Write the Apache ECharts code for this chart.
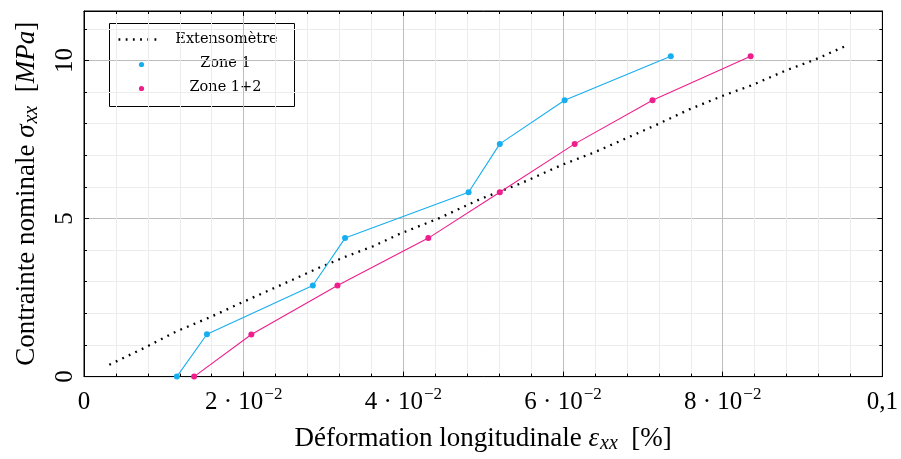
<!DOCTYPE html>
<html>
<head>
<meta charset="utf-8">
<script src="https://cdn.jsdelivr.net/npm/echarts@6/dist/echarts.min.js"></script>
<style>
html,body{margin:0;padding:0;background:#fff;}
#c{width:901px;height:459px;}
</style>
</head>
<body>
<div id="c"></div>
<script>
// Extensomètre (dotted black)
const extX = [0.00317, 0.0075, 0.01158, 0.0158, 0.01992, 0.0247, 0.0295, 0.03283, 0.0362, 0.0395, 0.0445, 0.0495, 0.0548, 0.0599, 0.0640, 0.0674, 0.0716, 0.0758, 0.0801, 0.0837, 0.0878, 0.0916, 0.0958];
const extY = [0.375, 0.90, 1.43, 1.88, 2.36, 2.90, 3.45, 3.80, 4.12, 4.51, 5.01, 5.60, 6.12, 6.70, 7.10, 7.48, 7.95, 8.45, 8.89, 9.22, 9.67, 10.03, 10.50];
// Zone 1 (blue)
const z1X = [0.01163, 0.0154, 0.02866, 0.0327, 0.04817, 0.05208, 0.0602, 0.0735];
const z1Y = [0, 1.34, 2.88, 4.38, 5.83, 7.36, 8.74, 10.13];
// Zone 1+2 (pink)
const z12X = [0.01379, 0.02096, 0.03175, 0.04313, 0.05208, 0.06146, 0.07121, 0.0835];
const z12Y = [0, 1.33, 2.88, 4.38, 5.83, 7.36, 8.74, 10.13];
// Tick labels
const xTickLabels = {0: '0', 0.02: '2 · 10|−2', 0.04: '4 · 10|−2', 0.06: '6 · 10|−2', 0.08: '8 · 10|−2', 0.1: '0,1'};
const legendNames = ['Extensomètre', 'Zone 1', 'Zone 1+2'];

const zip = (a, b) => a.map((v, i) => [v, b[i]]);
const BLUE = '#17aeef', PINK = '#ee1e8c';
const SERIF = '"Liberation Serif", "DejaVu Serif", serif';

const chart = echarts.init(document.getElementById('c'));
const gridL = 84, gridR = 17, gridT = 11, gridB = 78;

function xFmt(v) {
  const key = Math.round(v * 1000) / 1000;
  const s = xTickLabels[key];
  if (s === undefined) return '';
  if (s.indexOf('|') >= 0) {
    const p = s.split('|');
    return '{n|' + p[0] + '}{s|' + p[1] + '}';
  }
  return '{n|' + s + '}';
}

const titleRich = {
  a: {fontFamily: SERIF, fontSize: 27, color: '#000', lineHeight: 30},
  e: {fontFamily: SERIF, fontSize: 27, fontStyle: 'italic', color: '#000', lineHeight: 30},
  b: {fontFamily: SERIF, fontSize: 20, fontStyle: 'italic', color: '#000', lineHeight: 30, padding: [10, 0, 0, 1]}
};

const option = {
  backgroundColor: '#fff',
  animation: false,
  grid: {left: gridL, right: gridR, top: gridT, bottom: gridB, show: true, borderColor: '#000', borderWidth: 1},
  xAxis: [{
    type: 'value', min: 0, max: 0.1, interval: 0.02, position: 'bottom',
    axisLine: {show: true, onZero: false, lineStyle: {color: '#000', width: 1}},
    axisTick: {show: true, inside: true, length: 5, lineStyle: {color: '#000'}},
    minorTick: {show: true, splitNumber: 5, length: 3, lineStyle: {color: '#000'}},
    splitLine: {show: true, lineStyle: {color: '#bdbdbd', width: 1}},
    minorSplitLine: {show: true, lineStyle: {color: '#ececec', width: 1}},
    axisLabel: {
      margin: 13, formatter: xFmt,
      rich: {
        n: {fontFamily: SERIF, fontSize: 25, color: '#000', lineHeight: 26},
        s: {fontFamily: SERIF, fontSize: 17, color: '#000', lineHeight: 26, padding: [0, 0, 16, 1]}
      }
    },
    name: '{a|Déformation longitudinale }{e|ε}{b|xx}{a|  [%]}',
    nameLocation: 'middle', nameGap: 44,
    nameTextStyle: {rich: titleRich}
  }, {
    type: 'value', min: 0, max: 0.1, interval: 0.02, position: 'top',
    axisLine: {show: true, onZero: false, lineStyle: {color: '#000'}},
    axisTick: {show: true, inside: true, length: 5, lineStyle: {color: '#000'}},
    minorTick: {show: true, splitNumber: 5, length: 3, lineStyle: {color: '#000'}},
    axisLabel: {show: false}, splitLine: {show: false}
  }],
  yAxis: [{
    type: 'value', min: 0, max: 11.5625, interval: 5, position: 'left',
    axisLine: {show: true, onZero: false, lineStyle: {color: '#000', width: 1}},
    axisTick: {show: true, inside: true, length: 5, lineStyle: {color: '#000'}},
    minorTick: {show: true, splitNumber: 5, length: 3, lineStyle: {color: '#000'}},
    splitLine: {show: true, lineStyle: {color: '#bdbdbd', width: 1}},
    minorSplitLine: {show: true, lineStyle: {color: '#ececec', width: 1}},
    axisLabel: {
      rotate: 90, margin: 6, showMaxLabel: false,
      fontFamily: SERIF, fontSize: 25, color: '#000',
      formatter: v => (v % 5 === 0 ? String(v) : '')
    },
    name: '{a|Contrainte nominale }{e|σ}{b|xx}{a|  [}{e|MPa}{a|]}',
    nameLocation: 'middle', nameGap: 42, nameRotate: 90,
    nameTextStyle: {rich: titleRich}
  }, {
    type: 'value', min: 0, max: 11.5625, interval: 5, position: 'right',
    axisLine: {show: true, onZero: false, lineStyle: {color: '#000'}},
    axisTick: {show: true, inside: true, length: 5, lineStyle: {color: '#000'}},
    minorTick: {show: true, splitNumber: 5, length: 3, lineStyle: {color: '#000'}},
    axisLabel: {show: false}, splitLine: {show: false}
  }],
  series: [{
    name: legendNames[0], type: 'line', data: zip(extX, extY), showSymbol: false, symbol: 'none',
    lineStyle: {color: '#000', width: 2.3, type: [1.8, 5.4], cap: 'butt'}, z: 3
  }, {
    name: legendNames[1], type: 'line', data: zip(z1X, z1Y), symbol: 'circle', symbolSize: 6,
    itemStyle: {color: BLUE}, lineStyle: {color: BLUE, width: 1.1}, z: 4
  }, {
    name: legendNames[2], type: 'line', data: zip(z12X, z12Y), symbol: 'circle', symbolSize: 6,
    itemStyle: {color: PINK}, lineStyle: {color: PINK, width: 1.1}, z: 4
  }],
  graphic: [{
    type: 'group', left: 109, top: 23, z: 100,
    children: [
      {type: 'rect', shape: {x: 0, y: 0, width: 185, height: 83}, style: {fill: '#fff', stroke: '#000', lineWidth: 1}},
      {type: 'line', shape: {x1: 9, y1: 16, x2: 52, y2: 16}, style: {stroke: '#000', lineWidth: 2.3, lineDash: [1.8, 5.4]}},
      {type: 'text', x: 117, y: 16, style: {text: legendNames[0], fontFamily: '"DejaVu Serif", serif', fontSize: 14.5, fill: '#000', align: 'center', verticalAlign: 'middle'}},
      {type: 'circle', shape: {cx: 32, cy: 41, r: 2.6}, style: {fill: BLUE}},
      {type: 'text', x: 116, y: 40, style: {text: legendNames[1], fontFamily: '"DejaVu Serif", serif', fontSize: 14.5, fill: '#000', align: 'center', verticalAlign: 'middle'}},
      {type: 'circle', shape: {cx: 32, cy: 65, r: 2.6}, style: {fill: PINK}},
      {type: 'text', x: 116, y: 64, style: {text: legendNames[2], fontFamily: '"DejaVu Serif", serif', fontSize: 14.5, fill: '#000', align: 'center', verticalAlign: 'middle'}}
    ]
  }]
};
chart.setOption(option);
</script>
</body>
</html>
